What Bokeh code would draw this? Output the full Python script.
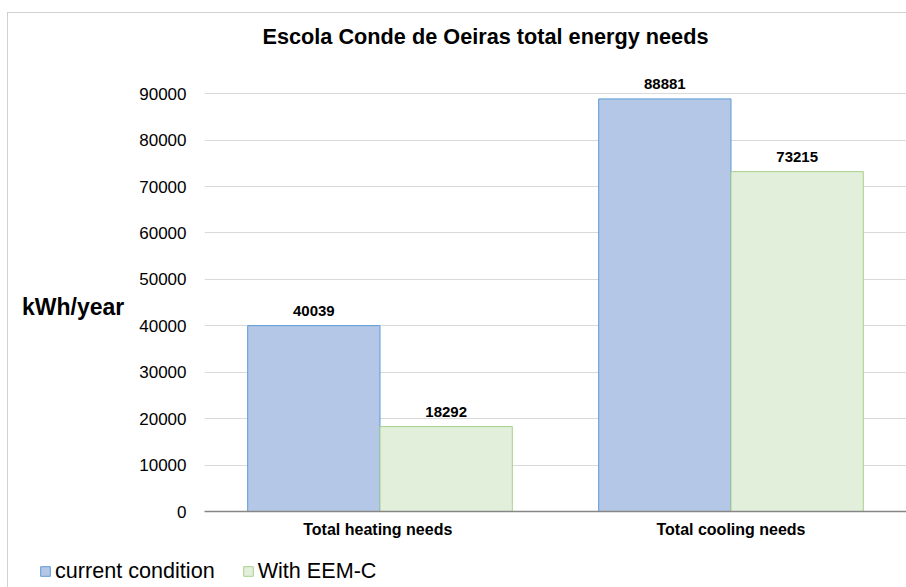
from bokeh.plotting import figure
from bokeh.layouts import column, row
from bokeh.models import FactorRange, Range1d, ColumnDataSource, LabelSet, Legend, LegendItem, FixedTicker
from bokeh.transform import dodge
from bokeh.core.properties import value
from bokeh.embed import file_html
from bokeh.resources import INLINE

title_text = "Escola Conde de Oeiras total energy needs"
categories = ["Total  heating needs", "Total cooling needs"]
series_names = ["current condition", "With EEM-C"]
current_condition = [40039, 88881]
with_eem_c = [18292, 73215]
y_ticks = [0, 10000, 20000, 30000, 40000, 50000, 60000, 70000, 80000, 90000]
y_label = "\nkWh/year"

FONT = "Liberation Sans"
BLUE_FILL, BLUE_LINE = "#b4c7e7", "#5b9bd5"
GREEN_FILL, GREEN_LINE = "#e2efda", "#a9d18e"

src = ColumnDataSource(dict(
    cat=categories,
    cur=current_condition,
    eem=with_eem_c,
    cur_lbl=[str(v) for v in current_condition],
    eem_lbl=[str(v) for v in with_eem_c],
))

# ---- title strip ----
p0 = figure(width=899, height=45, x_range=Range1d(0, 1), y_range=Range1d(0, 1),
            output_backend="svg", toolbar_location=None, title=title_text,
            min_border=0, min_border_left=0, min_border_right=0, min_border_top=35, min_border_bottom=0)
p0.axis.visible = False
p0.grid.visible = False
p0.outline_line_color = None
p0.title.text_font = FONT
p0.title.text_font_size = "21.7px"
p0.title.text_font_style = "bold"
p0.title.text_color = "#000000"
p0.title.align = "left"
p0.title.offset = 254
p0.title.vertical_align = "bottom"
p0.title.standoff = 0

# ---- main chart ----
p = figure(x_range=FactorRange(*categories), y_range=Range1d(0, 95000),
           width=899, height=495, output_backend="svg", toolbar_location=None, title=None,
           min_border_left=196, min_border_right=1, min_border_top=12, min_border_bottom=42)
p.x_range.range_padding = 0
p.outline_line_color = None

bw = 0.377
r1 = p.vbar(x=dodge("cat", -bw / 2, range=p.x_range), top="cur", width=bw, source=src,
            fill_color=BLUE_FILL, line_color=BLUE_LINE, line_width=1)
r2 = p.vbar(x=dodge("cat", bw / 2, range=p.x_range), top="eem", width=bw, source=src,
            fill_color=GREEN_FILL, line_color=GREEN_LINE, line_width=1)

for col, lbl, off in (("cur", "cur_lbl", -bw / 2), ("eem", "eem_lbl", bw / 2)):
    ls = LabelSet(x=dodge("cat", off, range=p.x_range), y=col, text=lbl, source=src,
                  text_align="center", text_baseline="bottom", y_offset=10,
                  text_font=value(FONT), text_font_size="15px", text_font_style="bold",
                  text_color="#000000")
    p.add_layout(ls)

# grid
p.xgrid.grid_line_color = None
p.ygrid.grid_line_color = "#d9d9d9"
p.ygrid.ticker = FixedTicker(ticks=y_ticks)

# y axis
p.yaxis.ticker = FixedTicker(ticks=y_ticks)
p.yaxis.axis_line_color = None
p.yaxis.major_tick_line_color = None
p.yaxis.minor_tick_line_color = None
p.yaxis.major_label_standoff = 12
p.yaxis.major_label_text_font = FONT
p.yaxis.major_label_text_font_size = "17px"
p.yaxis.major_label_text_color = "#000000"
p.yaxis.axis_label = y_label
p.yaxis.axis_label_orientation = "horizontal"
p.yaxis.axis_label_text_font = FONT
p.yaxis.axis_label_text_font_size = "23px"
p.yaxis.axis_label_text_font_style = "bold"
p.yaxis.axis_label_text_color = "#000000"
p.yaxis.axis_label_standoff = 12

# x axis
p.xaxis.axis_line_color = "#868686"
p.xaxis.axis_line_width = 1.5
p.xaxis.major_tick_line_color = None
p.xaxis.minor_tick_line_color = None
p.xaxis.major_label_standoff = 3
p.xaxis.major_label_text_font = FONT
p.xaxis.major_label_text_font_size = "16px"
p.xaxis.major_label_text_font_style = "bold"
p.xaxis.major_label_text_color = "#000000"

# ---- legend strip (hidden copies of the bars feed the legend) ----
p2 = figure(width=899, height=34, x_range=FactorRange(*categories), y_range=Range1d(0, 1),
            output_backend="svg", toolbar_location=None,
            min_border=0, min_border_left=0, min_border_right=0, min_border_top=0, min_border_bottom=0)
p2.axis.visible = False
p2.grid.visible = False
p2.outline_line_color = None
l1 = p2.vbar(x=dodge("cat", -bw / 2, range=p2.x_range), top="cur", width=bw, source=src,
             fill_color=BLUE_FILL, line_color=BLUE_LINE, visible=False)
l2 = p2.vbar(x=dodge("cat", bw / 2, range=p2.x_range), top="eem", width=bw, source=src,
             fill_color=GREEN_FILL, line_color=GREEN_LINE, visible=False)
legend = Legend(items=[LegendItem(label=series_names[0], renderers=[l1]),
                       LegendItem(label=series_names[1], renderers=[l2])],
                orientation="horizontal", location=(31, 3),
                glyph_width=12, glyph_height=12, label_height=22, label_standoff=4,
                spacing=27, padding=0, margin=0, border_line_color=None,
                background_fill_alpha=0, inactive_fill_alpha=0,
                label_text_font=FONT, label_text_font_size="21.6px", label_text_color="#000000")
p2.add_layout(legend, "center")

lay = column(row(p0), p, row(p2), spacing=0, margin=(12, 0, 0, 7),
             styles={"border-top": "1px solid #d0d0d0", "border-left": "1px solid #d0d0d0"})

open("out.html", "w").write(file_html(lay, INLINE))
